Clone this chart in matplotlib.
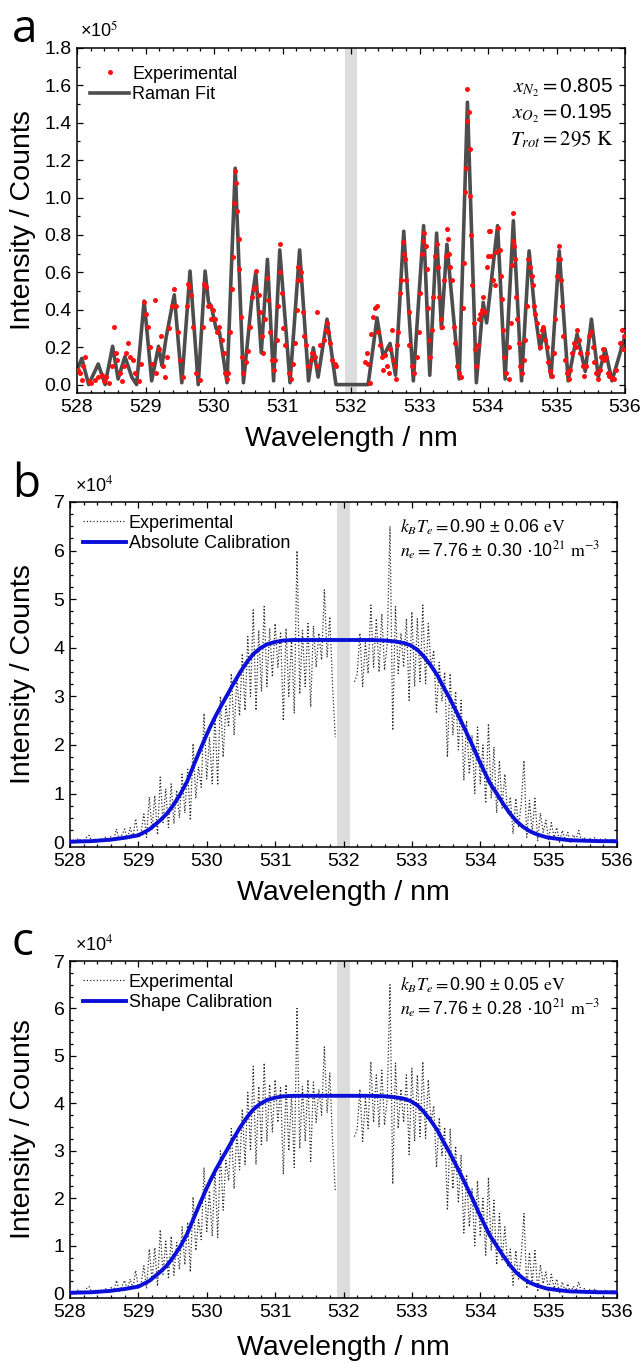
import numpy as np
import matplotlib
matplotlib.use("Agg")
import matplotlib.pyplot as plt
from matplotlib.ticker import MultipleLocator, FuncFormatter

plt.rcParams['font.family'] = ['Liberation Sans', 'DejaVu Sans']
plt.rcParams['mathtext.fontset'] = 'stix'

# ---- panel a: rotational Raman spectrum (values in 1e5 counts) ----
raman_fit_x = [528.00, 528.07, 528.17, 528.31, 528.41, 528.52, 528.60, 528.70, 528.80, 528.87,
               528.98, 529.09, 529.19, 529.24, 529.30, 529.42, 529.53, 529.65, 529.77, 529.87,
               529.92, 529.96, 530.03, 530.08, 530.19, 530.31, 530.43, 530.55, 530.61, 530.69,
               530.78, 530.87, 530.96, 531.11, 531.25, 531.38, 531.45, 531.52, 531.65, 531.78,
               532.25, 532.38, 532.47, 532.57, 532.65, 532.77, 532.91, 533.06, 533.15, 533.25,
               533.32, 533.40, 533.58, 533.70, 533.83, 533.93, 533.98, 534.14, 534.25, 534.37,
               534.49, 534.60, 534.68, 534.76, 534.82, 534.92, 535.04, 535.17, 535.30, 535.42,
               535.51, 535.61, 535.71, 535.81, 536.00]
raman_fit_y = [0.08, 0.14, 0.00, 0.11, 0.00, 0.205, 0.03, 0.15, 0.04, 0.00,
               0.447, 0.02, 0.205, 0.10, 0.25, 0.48, 0.01, 0.607, 0.00, 0.607,
               0.44, 0.42, 0.30, 0.28, 0.01, 1.157, 0.01, 0.45, 0.60, 0.17,
               0.67, 0.02, 0.72, 0.01, 0.72, 0.02, 0.197, 0.04, 0.35, 0.00,
               0.00, 0.357, 0.15, 0.22, 0.05, 0.82, 0.02, 0.85, 0.05, 0.81,
               0.30, 0.75, 0.03, 1.51, 0.01, 0.44, 0.33, 0.85, 0.03, 0.876,
               0.02, 0.715, 0.40, 0.19, 0.30, 0.04, 0.715, 0.02, 0.27, 0.07,
               0.35, 0.04, 0.19, 0.02, 0.26]

raman_exp_x = [528.02, 528.04, 528.07, 528.09, 528.12, 528.17, 528.21, 528.26, 528.31, 528.36,
               528.39, 528.43, 528.46, 528.51, 528.54, 528.57, 528.58, 528.63, 528.65, 528.68,
               528.72, 528.75, 528.77, 528.82, 528.85, 528.90, 528.94, 528.98, 529.01, 529.04,
               529.07, 529.09, 529.14, 529.16, 529.19, 529.22, 529.25, 529.29, 529.31, 529.35,
               529.38, 529.41, 529.44, 529.47, 529.50, 529.55, 529.60, 529.62, 529.64, 529.67,
               529.70, 529.74, 529.79, 529.84, 529.86, 529.88, 529.91, 529.94, 529.96, 529.99,
               530.01, 530.04, 530.08, 530.11, 530.14, 530.16, 530.19, 530.21, 530.24, 530.26,
               530.28, 530.29, 530.31, 530.32, 530.33, 530.36, 530.37, 530.39, 530.41, 530.43,
               530.47, 530.50, 530.53, 530.55, 530.58, 530.60, 530.62, 530.65, 530.67, 530.70,
               530.72, 530.75, 530.77, 530.79, 530.82, 530.85, 530.87, 530.89, 530.92, 530.94,
               530.96, 530.97, 530.99, 531.01, 531.04, 531.09, 531.12, 531.15, 531.18, 531.21,
               531.22, 531.23, 531.26, 531.27, 531.30, 531.32, 531.35, 531.37, 531.41, 531.43,
               531.47, 531.50, 531.51, 531.55, 531.60, 531.63, 531.65, 531.67, 531.70, 531.72,
               531.76, 531.78,
               532.21, 532.23, 532.25, 532.28, 532.29, 532.32, 532.35, 532.38, 532.40, 532.42,
               532.45, 532.47, 532.50, 532.52, 532.55, 532.57, 532.60, 532.62, 532.64, 532.66,
               532.67, 532.69, 532.72, 532.73, 532.76, 532.78, 532.79, 532.81, 532.84, 532.85,
               532.89, 532.92, 532.96, 532.99, 533.01, 533.03, 533.05, 533.07, 533.09, 533.11,
               533.13, 533.14, 533.16, 533.18, 533.20, 533.23, 533.25, 533.27, 533.29, 533.31,
               533.33, 533.36, 533.38, 533.40, 533.41, 533.43, 533.45, 533.48, 533.50, 533.52,
               533.55, 533.57, 533.60, 533.64, 533.65, 533.67, 533.68, 533.69, 533.70, 533.72,
               533.73, 533.74, 533.75, 533.77, 533.79, 533.81, 533.83, 533.85, 533.87, 533.89,
               533.91, 533.93, 533.96, 533.98, 534.00, 534.02, 534.03, 534.05, 534.08, 534.10,
               534.12, 534.14, 534.17, 534.19, 534.21, 534.22, 534.24, 534.26, 534.30, 534.31,
               534.33, 534.35, 534.36, 534.37, 534.38, 534.39, 534.41, 534.42, 534.45, 534.47,
               534.49, 534.52, 534.54, 534.57, 534.59, 534.61, 534.64, 534.65, 534.67, 534.69,
               534.71, 534.74, 534.76, 534.79, 534.81, 534.83, 534.86, 534.88, 534.91, 534.93,
               534.96, 534.98, 535.00, 535.02, 535.04, 535.05, 535.06, 535.08, 535.10, 535.13,
               535.15, 535.18, 535.20, 535.23, 535.25, 535.28, 535.30, 535.33, 535.35, 535.38,
               535.40, 535.43, 535.45, 535.48, 535.50, 535.53, 535.55, 535.58, 535.60, 535.63,
               535.65, 535.68, 535.70, 535.72, 535.75, 535.77, 535.81, 535.84, 535.87, 535.92,
               535.95, 535.97, 535.99]
raman_exp_y = [0.08, 0.06, 0.025, 0.10, 0.15, 0.017, 0.01, 0.025, 0.04, 0.05,
               0.017, 0.04, 0.01, 0.098, 0.31, 0.17, 0.13, 0.06, 0.017, 0.098,
               0.17, 0.22, 0.15, 0.13, 0.06, 0.017, 0.11, 0.44, 0.38, 0.31,
               0.20, 0.11, 0.45, 0.06, 0.19, 0.26, 0.098, 0.04, 0.15, 0.30,
               0.42, 0.51, 0.42, 0.28, 0.13, 0.04, 0.42, 0.54, 0.52, 0.48,
               0.31, 0.06, 0.025, 0.31, 0.54, 0.52, 0.42, 0.42, 0.35, 0.40,
               0.35, 0.28, 0.31, 0.24, 0.17, 0.06, 0.03, 0.06, 0.28, 0.51,
               0.68, 0.97, 1.14, 1.08, 0.93, 0.78, 0.62, 0.36, 0.15, 0.06,
               0.12, 0.18, 0.31, 0.47, 0.51, 0.52, 0.61, 0.48, 0.39, 0.26,
               0.17, 0.35, 0.57, 0.45, 0.28, 0.13, 0.08, 0.13, 0.24, 0.42,
               0.60, 0.75, 0.49, 0.30, 0.21, 0.06, 0.03, 0.11, 0.22, 0.40,
               0.56, 0.63, 0.56, 0.60, 0.39, 0.26, 0.21, 0.10, 0.13, 0.17,
               0.15, 0.39, 0.10, 0.21, 0.24, 0.29, 0.33, 0.28, 0.22, 0.13,
               0.11, 0.10,
               0.12, 0.17, 0.11, 0.01, 0.27, 0.36, 0.41, 0.42, 0.28, 0.21,
               0.15, 0.08, 0.16, 0.10, 0.06, 0.19, 0.29, 0.13, 0.10, 0.03,
               0.21, 0.28, 0.49, 0.56, 0.76, 0.70, 0.67, 0.56, 0.39, 0.21,
               0.10, 0.06, 0.15, 0.28, 0.49, 0.70, 0.77, 0.81, 0.74, 0.62,
               0.41, 0.24, 0.15, 0.29, 0.47, 0.69, 0.75, 0.63, 0.47, 0.35,
               0.31, 0.56, 0.69, 0.83, 0.78, 0.70, 0.63, 0.56, 0.31, 0.22,
               0.10, 0.06, 0.04, 0.41, 0.65, 1.03, 1.16, 1.41, 1.58, 1.46,
               1.26, 1.01, 0.80, 0.53, 0.33, 0.19, 0.10, 0.21, 0.35, 0.38,
               0.40, 0.47, 0.39, 0.63, 0.69, 0.82, 0.82, 0.69, 0.56, 0.53,
               0.71, 0.84, 0.72, 0.58, 0.46, 0.29, 0.15, 0.06, 0.03, 0.20,
               0.33, 0.64, 0.77, 0.92, 0.74, 0.67, 0.47, 0.35, 0.22, 0.10,
               0.06, 0.13, 0.24, 0.42, 0.67, 0.63, 0.58, 0.53, 0.42, 0.38,
               0.33, 0.26, 0.20, 0.29, 0.31, 0.24, 0.20, 0.12, 0.07, 0.045,
               0.17, 0.35, 0.58, 0.67, 0.74, 0.67, 0.56, 0.42, 0.26, 0.13,
               0.06, 0.03, 0.08, 0.17, 0.22, 0.20, 0.29, 0.24, 0.17, 0.10,
               0.045, 0.10, 0.17, 0.26, 0.28, 0.20, 0.12, 0.06, 0.03, 0.08,
               0.15, 0.19, 0.13, 0.15, 0.06, 0.045, 0.035, 0.03, 0.08, 0.22,
               0.29, 0.19, 0.26]

# ---- panels b and c: Thomson spectrum (values in 1e4 counts) ----
thomson_step = 0.04  # nm between samples, first sample at 528.00
thomson_exp = [0.02, 0.05, 0.0, 0.08, 0.03, 0.0, 0.1, 0.14, 0.02, 0.06, 0.0, 0.08, 0.03, 0.1, 0.02, 0.12,
               0.05, 0.27, 0.04, 0.15, 0.27, 0.06, 0.3, 0.1, 0.48, 0.12,
               0.2, 0.58, 0.1, 0.93, 0.25, 0.96, 0.15, 1.34, 0.4, 1.1, 0.3, 1.2,
               0.38, 1.07, 0.5, 1.4, 0.6, 1.5, 0.45, 2.03, 0.9, 1.55, 1.13, 2.65,
               1.3, 2.16, 1.2, 2.6, 1.17, 3.0, 1.75, 2.8, 2.37, 3.47, 2.2, 3.4, 2.6,
               3.88, 2.71, 4.23, 3.0, 4.78, 2.71, 4.36, 3.1, 4.85, 3.2, 4.4, 3.4,
               4.5, 3.6, 4.33, 2.5, 4.4, 3.0, 4.2, 2.65, 6.0, 3.05, 4.36, 3.2, 4.5,
               2.78, 4.45, 3.6, 4.3, 3.75, 5.19, 3.8, 4.64, 3.2, 2.16,
               np.nan, np.nan, np.nan, np.nan, np.nan, np.nan,
               3.3, 3.45, 4.3, 3.2, 4.1, 3.47, 4.88, 3.6, 4.6, 3.5,
               4.7, 3.54, 4.1, 6.5, 2.3, 4.85, 3.47, 4.3, 3.6, 4.6, 2.92,
               4.74, 3.2, 4.6, 3.3, 4.88, 3.26, 4.5, 3.6, 3.95, 2.65, 3.7, 2.9, 3.5,
               1.75, 3.47, 2.2, 3.1, 1.9, 2.92, 1.27, 2.5, 1.4, 2.2, 1.0, 2.37,
               1.2, 2.0, 0.8, 2.44, 0.9, 1.96, 0.6, 1.68, 0.7, 1.4, 0.58, 0.93, 0.17,
               0.9, 0.3, 0.8, 1.68, 0.1, 0.86, 0.2, 0.9, 0.03, 0.6, 0.2, 0.45,
               0.05, 0.4, 0.1, 0.3, 0.0, 0.24, 0.05, 0.2, 0.0, 0.15, 0.05, 0.24, 0.02,
               0.1, 0.0, 0.08, 0.03, 0.1, 0.0, 0.06, 0.02, 0.08, 0.0, 0.05, 0.02]

thomson_fit_x = [528.0, 528.3, 528.59, 528.8, 529.0, 529.16, 529.32, 529.42, 529.51, 529.61,
                 529.71, 529.8, 529.9, 529.97, 530.05, 530.12, 530.2, 530.3, 530.39, 530.49,
                 530.59, 530.68, 530.78, 530.88, 531.0, 531.12, 531.27, 531.6, 532.0, 532.4,
                 532.6, 532.75, 532.88, 532.98, 533.08, 533.17, 533.27, 533.37, 533.46, 533.56,
                 533.66, 533.76, 533.83, 533.9, 533.97, 534.05, 534.14, 534.24, 534.34, 534.44,
                 534.53, 534.63, 534.73, 534.83, 534.97, 535.12, 535.3, 535.51, 535.75, 536.0]
thomson_fit_y = [0.01, 0.02, 0.05, 0.09, 0.14, 0.26, 0.45, 0.59, 0.76, 0.98,
                 1.24, 1.55, 1.89, 2.12, 2.37, 2.57, 2.78, 3.03, 3.26, 3.5,
                 3.71, 3.87, 3.99, 4.07, 4.12, 4.15, 4.16, 4.16, 4.16, 4.16,
                 4.15, 4.13, 4.1, 4.05, 3.96, 3.83, 3.65, 3.44, 3.2, 2.94,
                 2.66, 2.37, 2.16, 1.95, 1.72, 1.48, 1.22, 1.0, 0.78, 0.58,
                 0.43, 0.31, 0.22, 0.16, 0.1, 0.07, 0.04, 0.03, 0.02, 0.02]

panel_c_fit_x = thomson_fit_x
panel_c_fit_y = thomson_fit_y

gap_band = (531.91, 532.09)

thomson_x = 528.0 + thomson_step * np.arange(len(thomson_exp))

fig = plt.figure(figsize=(6.41, 13.64), dpi=100)
W, H = 641.0, 1364.0


def make_axes(left, right, top, bottom):
    return fig.add_axes([left / W, 1 - bottom / H, (right - left) / W, (bottom - top) / H])


def style_axes(ax, ymajor, yminor):
    ax.set_xlim(528, 536)
    ax.xaxis.set_major_locator(MultipleLocator(1))
    ax.xaxis.set_minor_locator(MultipleLocator(0.2))
    ax.yaxis.set_major_locator(MultipleLocator(ymajor))
    ax.yaxis.set_minor_locator(MultipleLocator(yminor))
    ax.tick_params(which='both', direction='in', top=True, right=True, width=0.9,
                   labelsize=14, pad=4)
    ax.tick_params(which='major', length=4.5)
    ax.tick_params(which='minor', length=2.5)
    for s in ax.spines.values():
        s.set_linewidth(1.1)
    ax.set_xlabel('Wavelength / nm', fontsize=20.5)
    ax.set_ylabel('Intensity / Counts', fontsize=20.5)


# panel a
ax1 = make_axes(77, 625, 48, 393)
ax1.axvspan(*gap_band, color='#dcdcdc', lw=0, zorder=0)
ax1.plot(np.array(raman_fit_x), np.array(raman_fit_y) * 1e5, color='#4d4d4d', lw=2.6,
         solid_joinstyle='round', label='Raman Fit', zorder=2)
ax1.plot(np.array(raman_exp_x), np.array(raman_exp_y) * 1e5, 'o', color='#ff1010', ms=3.6,
         mec='none', label='Experimental', zorder=3)
ax1.set_ylim(-4500, 180000)
style_axes(ax1, 20000, 10000)
ax1.yaxis.set_major_formatter(FuncFormatter(lambda v, p: f'{v / 1e5:.1f}'))
ax1.xaxis.set_label_coords(0.5, -0.095)
ax1.yaxis.set_label_coords(-0.074, 0.5)
h, l = ax1.get_legend_handles_labels()
ax1.legend(h[::-1], l[::-1], loc='upper left', frameon=False, fontsize=13,
           handlelength=2.2, handletextpad=0.15, labelspacing=0.2,
           borderaxespad=0.3, bbox_to_anchor=(0.0, 0.985))
ax1.text(0.005, 1.02, r'×10$^{5}$', transform=ax1.transAxes, fontsize=13, ha='left', va='bottom')
ax1.text(0.978, 0.885, r'$x_{N_2}=$0.805', transform=ax1.transAxes, fontsize=15, ha='right', va='center')
ax1.text(0.978, 0.81, r'$x_{O_2}=$0.195', transform=ax1.transAxes, fontsize=15, ha='right', va='center')
ax1.text(0.978, 0.735, r'$T_{rot}=295\ \mathrm{K}$', transform=ax1.transAxes, fontsize=15, ha='right', va='center')

# panels b and c
panels = [
    (502, 847, -0.097, 'Absolute Calibration', thomson_fit_x, thomson_fit_y,
     [r'$k_BT_e=$0.90 ± 0.06 $\mathrm{eV}$', r'$n_e=$7.76 ± 0.30 ·10$^{21}$ $\mathrm{m}^{-3}$']),
    (961, 1298, -0.11, 'Shape Calibration', panel_c_fit_x, panel_c_fit_y,
     [r'$k_BT_e=$0.90 ± 0.05 $\mathrm{eV}$', r'$n_e=$7.76 ± 0.28 ·10$^{21}$ $\mathrm{m}^{-3}$']),
]
for top, bottom, xlab_y, fit_label, fx, fy, notes in panels:
    ax = make_axes(70, 617, top, bottom)
    ax.axvspan(*gap_band, color='#dcdcdc', lw=0, zorder=0)
    ax.plot(thomson_x, np.array(thomson_exp) * 1e4, ls=':', color='#2b2b2b', lw=0.9,
            label='Experimental', zorder=2)
    ax.plot(np.array(fx), np.array(fy) * 1e4, color='#0a10d8', lw=2.8,
            solid_joinstyle='round', label=fit_label, zorder=3)
    ax.set_ylim(-1000, 70000)
    style_axes(ax, 10000, 2500)
    ax.yaxis.set_major_formatter(FuncFormatter(lambda v, p: f'{v / 1e4:.0f}'))
    ax.xaxis.set_label_coords(0.5, xlab_y)
    ax.yaxis.set_label_coords(-0.062, 0.5)
    ax.legend(loc='upper left', frameon=False, fontsize=13, handlelength=2.4,
              handletextpad=0.15, labelspacing=0.2, borderaxespad=0.3)
    ax.text(0.01, 1.02, r'×10$^{4}$', transform=ax.transAxes, fontsize=13, ha='left', va='bottom')
    ax.text(0.603, 0.928, notes[0], transform=ax.transAxes, fontsize=12.8, ha='left', va='center')
    ax.text(0.603, 0.858, notes[1], transform=ax.transAxes, fontsize=12.8, ha='left', va='center')

for letter, ypx in [('a', 30), ('b', 485), ('c', 943)]:
    fig.text(12 / W, 1 - ypx / H, letter, fontsize=33, family='Open Sans', ha='left', va='center')

fig.savefig('out.png', dpi=100)
